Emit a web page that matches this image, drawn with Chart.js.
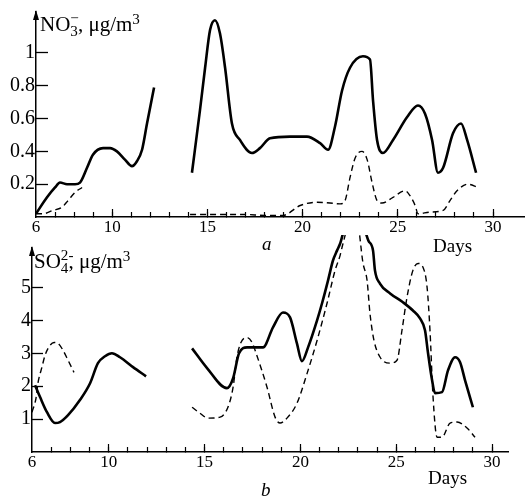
<!DOCTYPE html>
<html>
<head>
<meta charset="UTF-8">
<script src="https://cdn.jsdelivr.net/npm/chart.js"></script>
<style>
  body { margin: 0; background: #fff; width: 525px; height: 497px; position: relative; overflow: hidden;
         font-family: "Liberation Serif", "Times New Roman", serif; color: #000; }
  canvas { position: absolute; left: 0; }
  .lbl { position: absolute; font-size: 19px; line-height: 19px; white-space: nowrap; }
  .ttl { font-size: 21px; line-height: 21px; }
  .stk { position: relative; display: inline-block; font-size: 0.72em; line-height: 1; vertical-align: -0.35em; }
  .stk .up { position: absolute; left: 0; top: -0.85em; }
  .sup { font-size: 0.72em; vertical-align: 0.45em; line-height: 1; }
</style>
</head>
<body>
<canvas id="chartA" width="525" height="250" style="top:0"></canvas>
<canvas id="chartB" width="525" height="267" style="top:230px"></canvas>

<div class="lbl ttl" style="left:40px;top:12px">NO<span class="stk"><span class="up">&minus;</span>3</span>, μg/m<span class="sup">3</span></div>
<div class="lbl ttl" style="left:34px;top:249px">SO<span class="stk"><span class="up">2-</span>4</span>, μg/m<span class="sup">3</span></div>
<div class="lbl" style="left:262px;top:234px;font-style:italic">a</div>
<div class="lbl" style="left:433px;top:236px">Days</div>
<div class="lbl" style="left:261px;top:480px;font-style:italic">b</div>
<div class="lbl" style="left:428px;top:468px">Days</div>

<script>
// panel a, NO3- (solid and dashed curves, each in two pieces)
const no3SolidDays1 = [6, 6.58, 7.0, 7.26, 7.63, 8.05, 8.31, 8.68, 8.99, 9.52, 9.89, 10.25, 10.67, 11.04, 11.3, 11.57, 11.83, 12.2];
const no3Solid1 = [0.02, 0.12, 0.18, 0.21, 0.2, 0.2, 0.21, 0.3, 0.38, 0.42, 0.42, 0.4, 0.35, 0.31, 0.34, 0.41, 0.57, 0.79];
const no3SolidDays2 = [14.19, 14.61, 14.88, 15.14, 15.4, 15.66, 15.93, 16.29, 16.71, 17.34, 17.76, 18.29, 19.34, 20.23, 20.92, 21.34, 21.7, 22.07, 22.49, 23.17, 23.54, 23.7, 23.91, 24.22, 24.75, 25.49, 26.06, 26.43, 26.8, 27.11, 27.38, 27.9, 28.32, 28.64, 29.11];
const no3Solid2 = [0.27, 0.65, 0.91, 1.14, 1.2, 1.12, 0.91, 0.57, 0.47, 0.39, 0.42, 0.48, 0.49, 0.49, 0.45, 0.41, 0.55, 0.77, 0.91, 0.98, 0.96, 0.71, 0.47, 0.39, 0.47, 0.61, 0.68, 0.63, 0.47, 0.27, 0.3, 0.51, 0.57, 0.47, 0.27];
const no3DashDays1 = [6, 6.37, 6.89, 7.37, 7.68, 8.05, 8.42];
const no3Dash1 = [0.02, 0.02, 0.04, 0.06, 0.1, 0.15, 0.18];
const no3DashDays2 = [14.09, 15, 16, 17, 18, 18.97, 19.87, 20.76, 21.44, 21.97, 22.23, 22.49, 22.76, 23.12, 23.39, 23.65, 23.91, 24.17, 24.75, 25.38, 25.64, 25.91, 26.06, 26.69, 27.38, 27.74, 28.11, 28.69, 29.21];
const no3Dash2 = [0.015, 0.015, 0.015, 0.015, 0.01, 0.01, 0.07, 0.09, 0.085, 0.08, 0.1, 0.24, 0.36, 0.4, 0.35, 0.21, 0.1, 0.085, 0.12, 0.16, 0.13, 0.07, 0.02, 0.03, 0.04, 0.1, 0.16, 0.2, 0.18];

// panel b, SO4 2-
const so4SolidDays1 = [6.16, 6.42, 6.78, 7.2, 7.46, 7.88, 8.5, 9.03, 9.44, 9.81, 10.17, 10.59, 11.27, 11.95];
const so4Solid1 = [2.03, 1.67, 1.21, 0.88, 0.91, 1.12, 1.58, 2.09, 2.7, 2.91, 3.0, 2.88, 2.58, 2.3];
const so4SolidDays2 = [14.35, 15.13, 16.17, 16.49, 16.8, 17.22, 17.63, 18.05, 18.57, 19.09, 19.46, 19.82, 20.08, 20.4, 20.87, 21.13, 21.44, 21.7, 21.91, 22.07, 22.5, 23.1, 23.55, 23.79, 23.89, 24.15, 24.68, 25.35, 25.87, 26.24, 26.5, 26.66, 26.87, 27.02, 27.39, 27.7, 28.07, 28.33, 28.59, 29.0];
const so4Solid2 = [3.15, 2.55, 1.94, 2.24, 3.0, 3.18, 3.18, 3.18, 3.79, 4.24, 4.09, 3.3, 2.76, 3.18, 4.0, 4.52, 5.21, 5.82, 6.12, 6.33, 7.1, 7.1, 6.42, 6.12, 5.52, 5.12, 4.82, 4.55, 4.3, 4.06, 3.7, 3.0, 2.18, 1.79, 1.82, 2.48, 2.88, 2.73, 2.18, 1.36];
const so4DashDays1 = [6.0, 6.21, 6.31, 6.52, 6.68, 6.94, 7.15, 7.36, 7.62, 7.88, 8.19];
const so4Dash1 = [1.21, 1.64, 2.09, 2.58, 2.94, 3.24, 3.33, 3.3, 3.09, 2.79, 2.42];
const so4DashDays2 = [14.35, 14.76, 15.18, 15.81, 16.22, 16.49, 16.69, 16.9, 17.22, 17.48, 17.69, 18.26, 18.68, 18.94, 19.3, 19.82, 20.35, 20.87, 21.39, 21.81, 22.07, 22.22, 22.6, 22.95, 23.27, 23.48, 23.63, 23.84, 24.16, 24.67, 25.04, 25.3, 25.56, 25.87, 26.14, 26.4, 26.61, 26.76, 26.92, 27.13, 27.39, 27.81, 28.17, 28.69, 29.11];
const so4Dash2 = [1.36, 1.18, 1.03, 1.06, 1.36, 1.97, 2.88, 3.33, 3.48, 3.33, 3.0, 1.97, 1.06, 0.88, 1.03, 1.48, 2.39, 3.39, 4.52, 5.52, 5.97, 6.33, 7.0, 7.0, 5.73, 5.21, 4.21, 3.39, 2.88, 2.7, 2.79, 3.7, 4.7, 5.52, 5.73, 5.61, 5.0, 3.7, 1.67, 0.45, 0.45, 0.88, 0.91, 0.73, 0.45];

// tick labels
const dayLabels = [6, 10, 15, 20, 25, 30];
const no3Labels = [0.2, 0.4, 0.6, 0.8, 1];
const so4Labels = [1, 2, 3, 4, 5];

Chart.defaults.font.family = '"Liberation Serif", "Times New Roman", serif';
Chart.defaults.color = '#000';

const has = (list, v) => list.some(t => Math.abs(t - v) < 1e-6);
const clear = 'rgba(0,0,0,0)';

function curve(days, vals, dashed) {
  return {
    data: days.map((d, i) => ({ x: d, y: vals[i] })),
    xAxisID: 'x',
    yAxisID: 'y',
    borderColor: '#000',
    borderWidth: dashed ? 1.4 : 2.6,
    borderDash: dashed ? [6, 4] : [],
    pointRadius: 0,
    cubicInterpolationMode: 'monotone',
    fill: false,
    clip: { left: 2, right: 2, top: 13, bottom: 2 }
  };
}

// arrow head on top of the y axis
const axisArrow = {
  id: 'axisArrow',
  afterDraw(chart) {
    const { ctx, chartArea } = chart;
    const x = chartArea.left;
    ctx.save();
    ctx.fillStyle = '#000';
    ctx.beginPath();
    ctx.moveTo(x, chartArea.top - 2);
    ctx.lineTo(x - 3, chartArea.top + 8);
    ctx.lineTo(x + 3, chartArea.top + 8);
    ctx.closePath();
    ctx.fill();
    ctx.restore();
  }
};

function panel(id, o) {
  return new Chart(document.getElementById(id), {
    type: 'line',
    data: { datasets: o.datasets },
    options: {
      responsive: false,
      animation: false,
      devicePixelRatio: 1,
      layout: { padding: o.pad },
      plugins: { legend: { display: false }, tooltip: { enabled: false } },
      scales: {
        xMajor: {
          type: 'linear', position: 'bottom', weight: -1, min: 6, max: o.xMax,
          border: { display: false },
          grid: { drawOnChartArea: false, tickLength: -8, tickWidth: 1.2,
            tickColor: c => (c.tick && has([10, 15, 20, 25, 30], c.tick.value)) ? '#000' : clear },
          ticks: { stepSize: 5, display: false, includeBounds: false },
          afterFit: s => { s.height = 0; s.paddingLeft = 0; s.paddingRight = 0; }
        },
        x: {
          type: 'linear', position: 'bottom', min: 6, max: o.xMax,
          border: { color: '#000', width: 1.5 },
          grid: { drawOnChartArea: false, tickLength: -5, tickWidth: 1.2,
            tickColor: c => (c.tick && c.tick.value > 6.5 && c.tick.value < 30.5) ? '#000' : clear },
          ticks: { stepSize: 1, autoSkip: false, maxRotation: 0, padding: 5, includeBounds: false, font: { size: 17 },
            callback: v => has(dayLabels, v) ? String(v) : '' },
          afterFit: s => { s.height = o.xHeight; s.paddingLeft = 0; s.paddingRight = 0; }
        },
        y: {
          type: 'linear', position: 'left', min: 0, max: o.yMax,
          border: { color: '#000', width: 1.5 },
          grid: { drawOnChartArea: false, tickLength: -o.yTick, tickWidth: 1.3,
            tickColor: c => (c.tick && has(o.yLabels, c.tick.value)) ? '#000' : clear },
          ticks: { stepSize: o.yStep, autoSkip: false, padding: o.yTick + 1, font: { size: 20 },
            callback: v => has(o.yLabels, v) ? String(+v.toFixed(1)) : '' },
          afterFit: s => { s.width = o.yWidth; s.paddingTop = 0; s.paddingBottom = 0; }
        }
      }
    },
    plugins: [axisArrow]
  });
}

panel('chartA', {
  datasets: [
    curve(no3SolidDays1, no3Solid1, false),
    curve(no3SolidDays2, no3Solid2, false),
    curve(no3DashDays1, no3Dash1, true),
    curve(no3DashDays2, no3Dash2, true)
  ],
  pad: { top: 12, left: 0, right: 0, bottom: 0 },
  xMax: 31.68, xHeight: 33,
  yMax: 1.25, yStep: 0.2, yLabels: no3Labels, yTick: 12, yWidth: 36
});

panel('chartB', {
  datasets: [
    curve(so4SolidDays1, so4Solid1, false),
    curve(so4SolidDays2, so4Solid2, false),
    curve(so4DashDays1, so4Dash1, true),
    curve(so4DashDays2, so4Dash2, true)
  ],
  pad: { top: 18, left: 0, right: 17, bottom: 0 },
  xMax: 30.83, xHeight: 45,
  yMax: 6.2, yStep: 1, yLabels: so4Labels, yTick: 11, yWidth: 32
});
</script>
</body>
</html>
